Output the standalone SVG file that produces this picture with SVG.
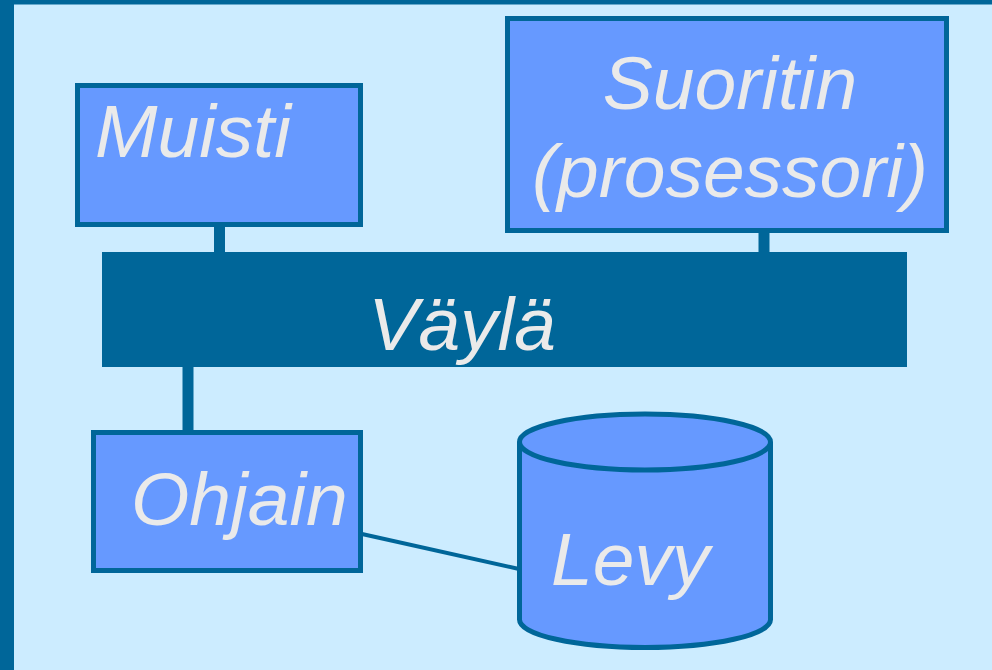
<svg xmlns="http://www.w3.org/2000/svg" width="992" height="670" viewBox="0 0 992 670">
<style>
.box{fill:#6699FF;stroke:#006699;stroke-width:5}
.lbl{font-family:"Liberation Sans",Arial,sans-serif;font-style:italic;font-size:75px;fill:#EAEAEA}
.wire{stroke:#006699;fill:none}
</style>
<rect x="0" y="0" width="992" height="670" fill="#CCECFF"/>
<rect x="0" y="0" width="992" height="4.5" fill="#006699"/>
<rect x="0" y="0" width="14" height="670" fill="#006699"/>
<g id="connectors">
<line class="wire" x1="219.5" y1="226" x2="219.5" y2="253" stroke-width="11"/>
<line class="wire" x1="764" y1="232" x2="764" y2="253" stroke-width="11"/>
<line class="wire" x1="188" y1="366" x2="188" y2="431" stroke-width="11"/>
<line class="wire" x1="362" y1="534" x2="519" y2="569" stroke-width="4"/>
</g>
<g id="muisti">
<rect class="box" x="77.5" y="85.5" width="283" height="139"/>
<text class="lbl" x="95" y="157">Muisti</text>
</g>
<g id="suoritin">
<rect class="box" x="507.5" y="18.5" width="439" height="212"/>
<text class="lbl" x="730" y="109" text-anchor="middle">Suoritin</text>
<text class="lbl" x="730" y="197" text-anchor="middle">(prosessori)</text>
</g>
<g id="vayla">
<rect x="102" y="252" width="805" height="115" fill="#006699"/>
<text class="lbl" x="462" y="350" text-anchor="middle">Väylä</text>
</g>
<g id="ohjain">
<rect class="box" x="93.5" y="432.5" width="267" height="138"/>
<text class="lbl" x="131" y="525">Ohjain</text>
</g>
<g id="levy">
<path d="M519.5,442 L519.5,619.5 A125.5,28 0 0 0 770.5,619.5 L770.5,442" fill="#6699FF" stroke="#006699" stroke-width="5"/>
<ellipse cx="645" cy="442" rx="125.5" ry="28" fill="#6699FF" stroke="#006699" stroke-width="5"/>
<text class="lbl" x="551" y="585">Levy</text>
</g>
</svg>
